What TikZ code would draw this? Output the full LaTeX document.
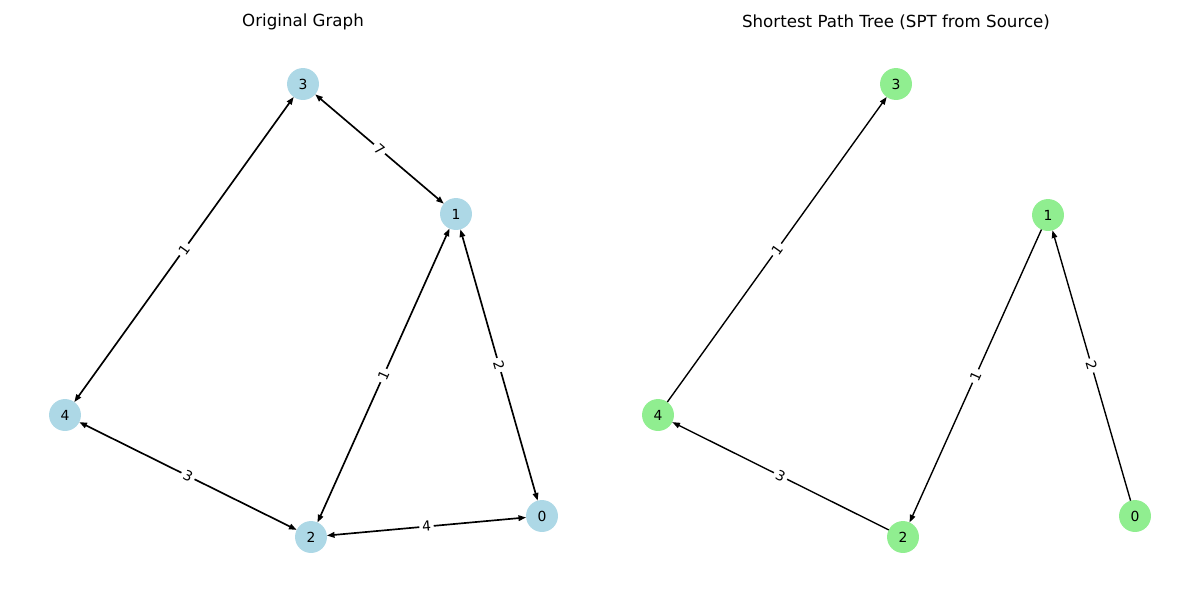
\documentclass[tikz,border=0pt]{standalone}
\usepackage{fontspec}
\setmainfont{DejaVu Sans}
\usetikzlibrary{arrows.meta}

\tikzset{
	vtx/.style={circle, minimum size=23pt, inner sep=0pt, outer sep=0pt, font=\fontsize{10}{12}\selectfont},
	orig/.style={vtx, fill={rgb,255:red,173;green,216;blue,230}},
	tree/.style={vtx, fill={rgb,255:red,144;green,238;blue,144}},
	edge/.style={line width=1pt, -{Triangle[length=5.5pt,width=4pt]}},
	both/.style={line width=1.2pt, {Triangle[length=5.5pt,width=4pt]}-{Triangle[length=5.5pt,width=4pt]}},
	wt/.style={midway, sloped, fill=white, inner sep=2pt, font=\fontsize{10}{12}\selectfont},
	ttl/.style={font=\fontsize{12}{14}\selectfont}
}

\begin{document}
\begin{tikzpicture}[x=0.72pt, y=-0.72pt]
		\useasboundingbox (0,0) rectangle (1200,600);
		% original graph
		\node[ttl] (t1) at (303,22) {Original Graph};
		\node[orig] (a3) at (303,84) {3};
		\node[orig] (a1) at (456,214) {1};
		\node[orig] (a4) at (65,415) {4};
		\node[orig] (a2) at (311,537) {2};
		\node[orig] (a0) at (542,516) {0};
		\draw[both] (a3) -- (a1) node[wt] {7};
		\draw[both] (a3) -- (a4) node[wt] {1};
		\draw[both] (a1) -- (a2) node[wt] {1};
		\draw[both] (a1) -- (a0) node[wt] {2};
		\draw[both] (a4) -- (a2) node[wt] {3};
		\draw[both] (a2) -- (a0) node[wt] {4};

		% shortest path tree
		\node[ttl] (t2) at (896,22) {Shortest Path Tree (SPT from Source)};
		\node[tree] (b3) at (896,84) {3};
		\node[tree] (b1) at (1048,215) {1};
		\node[tree] (b4) at (658,415) {4};
		\node[tree] (b2) at (903,537) {2};
		\node[tree] (b0) at (1135,516) {0};
		\draw[edge] (b4) -- (b3) node[wt] {1};
		\draw[edge] (b1) -- (b2) node[wt] {1};
		\draw[edge] (b0) -- (b1) node[wt] {2};
		\draw[edge] (b2) -- (b4) node[wt] {3};
	\end{tikzpicture}
\end{document}
